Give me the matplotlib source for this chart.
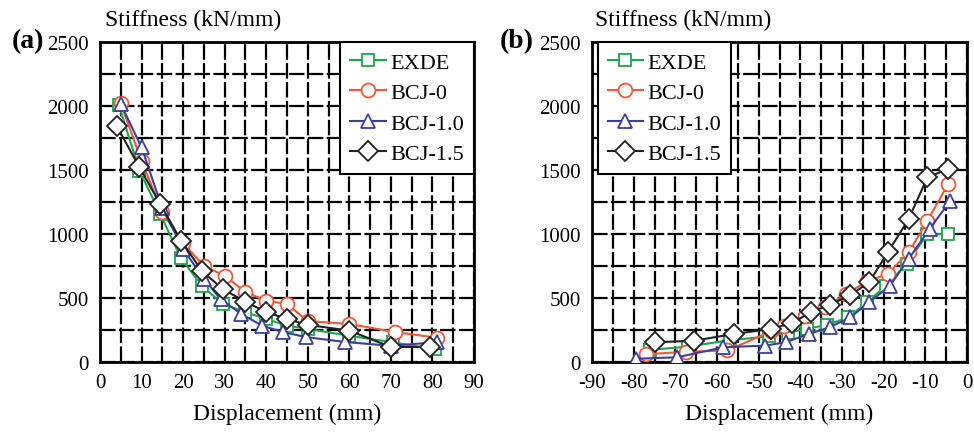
import numpy as np
import matplotlib
matplotlib.use("Agg")
import matplotlib.pyplot as plt
from matplotlib.ticker import MultipleLocator

plt.rcParams['font.family'] = ['Liberation Serif', 'DejaVu Serif']
plt.rcParams['axes.unicode_minus'] = False

# ---------------------------------------------------------------------------
# data
# ---------------------------------------------------------------------------
series_names = ['EXDE', 'BCJ-0', 'BCJ-1.0', 'BCJ-1.5']

# (a) positive loading
a_exde_x = [4.5, 9.5, 14.5, 19.5, 24.5, 29.5, 35, 40, 45, 50, 60, 70.5, 80.5]
a_exde_y = [2010, 1495, 1156, 810, 596, 453, 390, 336, 284, 258, 205, 154, 100]
a_bcj0_x = [5, 10, 15, 20, 25, 30, 35, 40, 45, 50, 60, 71, 81]
a_bcj0_y = [2020, 1570, 1170, 930, 750, 674, 546, 479, 453, 320, 297, 234, 190]
a_bcj10_x = [5, 10, 15, 20, 25, 29, 34, 39, 44, 49.5, 59, 70, 81]
a_bcj10_y = [2015, 1677, 1200, 883, 650, 492, 375, 284, 234, 195, 156, 127, 154]
a_bcj15_x = [4, 9.5, 14.5, 19.5, 24.5, 29.5, 35, 40, 45, 50, 60, 70, 79.5]
a_bcj15_y = [1846, 1520, 1234, 948, 713, 570, 471, 390, 336, 290, 245, 117, 117]

# (b) negative loading
b_exde_x = [-76, -67, -57, -47.5, -43, -38.5, -33.5, -28.5, -24, -19.5, -14.5, -9.5, -4.5]
b_exde_y = [95, 120, 170, 200, 230, 258, 291, 349, 466, 596, 766, 1000, 1000]
b_bcj0_x = [-77, -67.5, -57.5, -47, -44, -39, -34, -29, -24, -19, -14, -9.5, -4.5]
b_bcj0_y = [60, 80, 90, 240, 284, 362, 427, 531, 630, 688, 857, 1104, 1391]
b_bcj10_x = [-79.5, -69.5, -58.5, -48.5, -43.5, -38, -33, -28, -23.5, -18.5, -14, -9, -4]
b_bcj10_y = [25, 37, 115, 128, 154, 219, 271, 349, 466, 596, 805, 1039, 1260]
b_bcj15_x = [-75, -65.5, -56, -47, -42, -37.5, -33, -28, -23.5, -19, -14, -9.5, -4.5]
b_bcj15_y = [154, 166, 219, 258, 305, 388, 445, 523, 622, 857, 1117, 1443, 1508]

colors = ['#1ea64f', '#f0583a', '#3d3f9c', '#222222']
markers = ['s', 'o', '^', 'D']
msizes = [9, 10, 10, 10]

a_data = [(a_exde_x, a_exde_y), (a_bcj0_x, a_bcj0_y),
          (a_bcj10_x, a_bcj10_y), (a_bcj15_x, a_bcj15_y)]
b_data = [(b_exde_x, b_exde_y), (b_bcj0_x, b_bcj0_y),
          (b_bcj10_x, b_bcj10_y), (b_bcj15_x, b_bcj15_y)]

fig = plt.figure(figsize=(9.74, 4.35), dpi=100)
ax_a = fig.add_axes([100 / 974, 72 / 435, 374 / 974, 320 / 435])
ax_b = fig.add_axes([592 / 974, 72 / 435, 375 / 974, 320 / 435])


def style_axes(ax, xlim, xticks):
    ax.set_xlim(*xlim)
    ax.set_ylim(0, 2500)
    ax.set_xticks(xticks)
    ax.xaxis.set_minor_locator(MultipleLocator(5))
    ax.yaxis.set_major_locator(MultipleLocator(500))
    ax.yaxis.set_minor_locator(MultipleLocator(250))
    ax.grid(True, which='both', color='black', linewidth=1.6,
            linestyle=(0, (7, 1.5)))
    ax.set_axisbelow(True)
    ax.tick_params(which='both', direction='in', length=0, labelsize=15,
                   pad=8)
    for sp in ax.spines.values():
        sp.set_linewidth(2)
    ax.set_xlabel('Displacement (mm)', fontsize=17, labelpad=8)


panels = [(ax_a, a_data, (0, 90), np.arange(0, 91, 10), '(a)', 12, 105,
           ('upper right', (1.0, 1.0))),
          (ax_b, b_data, (-90, 0), np.arange(-90, 1, 10), '(b)', 500, 595,
           ('upper left', (0.015, 1.0)))]

for ax, data, xlim, xticks, lab, lx, tx, (loc, anchor) in panels:
    style_axes(ax, xlim, xticks)
    for (xs, ys), name, c, m, ms in zip(data, series_names, colors, markers, msizes):
        ax.plot(xs, ys, color=c, marker=m, markersize=ms, linewidth=1.5,
                markerfacecolor='white', markeredgecolor=c,
                markeredgewidth=1.3, label=name, zorder=3)
    leg = ax.legend(loc=loc, bbox_to_anchor=anchor, borderaxespad=0,
                    fontsize=16, frameon=True, fancybox=False,
                    edgecolor='black', framealpha=1, borderpad=0.45,
                    handlelength=1.6, handletextpad=0.2, labelspacing=0.45)
    leg.get_frame().set_linewidth(1.5)
    fig.text(tx / 974, 1 - 20 / 435, 'Stiffness (kN/mm)', fontsize=17,
             va='center', ha='left')
    fig.text(lx / 974, 1 - 42 / 435, lab, fontsize=20, fontweight='bold',
             va='center', ha='left')

fig.savefig('out.png', dpi=100)
